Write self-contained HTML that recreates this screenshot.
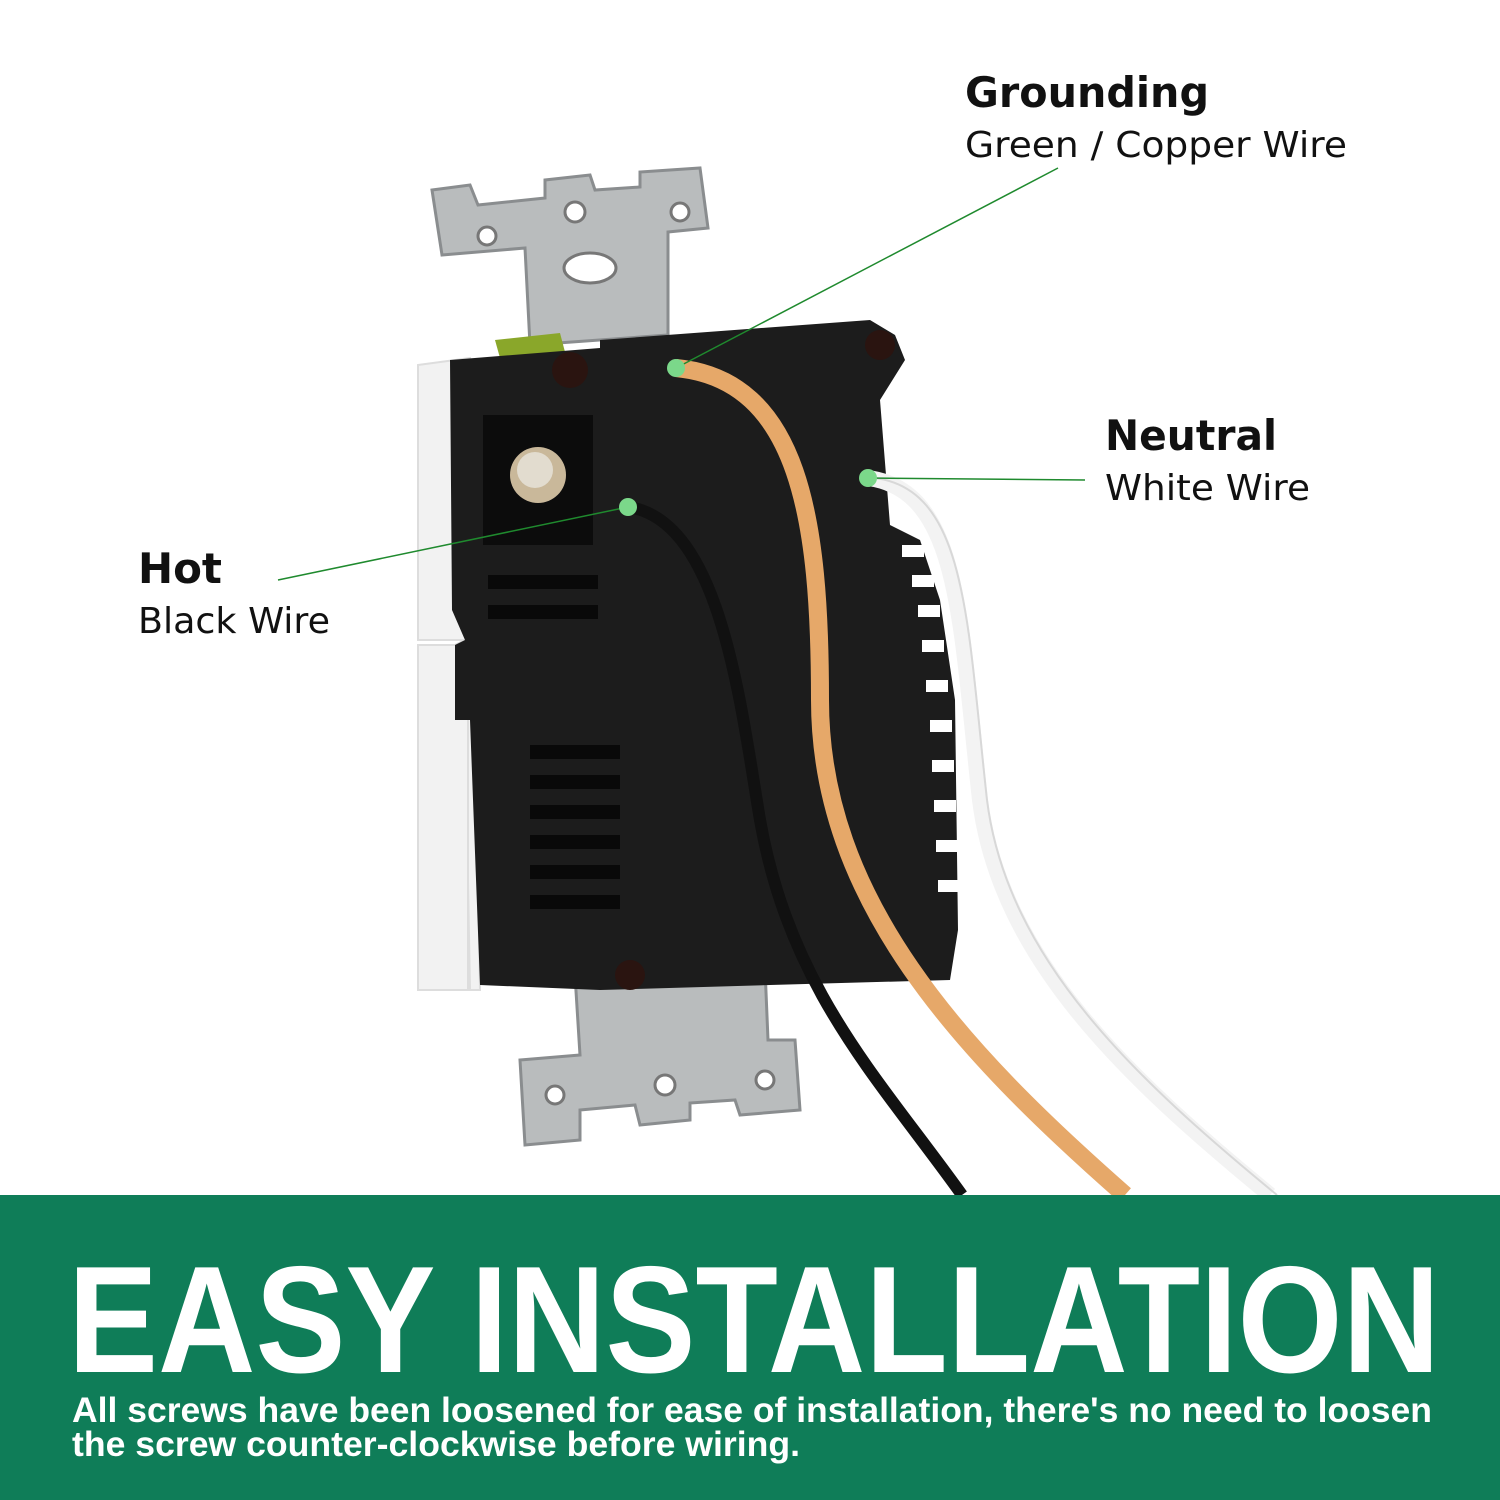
<!DOCTYPE html>
<html><head><meta charset="utf-8"><style>
html,body{margin:0;padding:0;background:#fff}
svg{display:block}
</style></head><body>
<svg width="1500" height="1500" viewBox="0 0 1500 1500" xmlns="http://www.w3.org/2000/svg">
<rect width="1500" height="1500" fill="#fff"/>
<path d="M432,190 L470,185 L478,205 L545,198 L545,180 L590,175 L595,190 L640,187 L640,172 L700,168 L708,228 L668,232 L668,335 L530,345 L525,248 L442,255 Z" fill="#b9bcbd" stroke="#8a8d8f" stroke-width="3"/>
<circle cx="575" cy="212" r="10" fill="#fff" stroke="#777" stroke-width="3"/>
<circle cx="487" cy="236" r="9" fill="#fff" stroke="#777" stroke-width="3"/>
<circle cx="680" cy="212" r="9" fill="#fff" stroke="#777" stroke-width="3"/>
<ellipse cx="590" cy="268" rx="26" ry="15" fill="#fff" stroke="#777" stroke-width="3"/>
<path d="M495,340 L560,333 L565,352 L500,358 Z" fill="#8aa72a"/>
<path d="M575,975 L765,968 L768,1040 L795,1040 L800,1110 L740,1115 L735,1100 L690,1103 L690,1120 L640,1125 L635,1105 L580,1110 L580,1140 L525,1145 L520,1060 L580,1055 Z" fill="#b9bcbd" stroke="#8a8d8f" stroke-width="3"/>
<circle cx="665" cy="1085" r="10" fill="#fff" stroke="#777" stroke-width="3"/>
<circle cx="555" cy="1095" r="9" fill="#fff" stroke="#777" stroke-width="3"/>
<circle cx="765" cy="1080" r="9" fill="#fff" stroke="#777" stroke-width="3"/>
<path d="M418,365 L470,358 L480,990 L470,990 L465,720 L455,720 L455,645 L465,640 L462,640 L418,640 Z" fill="#f2f2f2" stroke="#ddd" stroke-width="2"/>
<rect x="418" y="645" width="50" height="345" fill="#f2f2f2" stroke="#ddd" stroke-width="2"/>
<path d="M450,360 L600,348 L600,340 L870,320 L895,335 L905,360 L880,400 L890,525 L920,540 L940,600 L955,700 L958,930 L950,980 L770,985 L600,990 L480,985 L470,720 L455,720 L455,645 L465,640 L452,610 Z" fill="#1c1c1c"/>
<rect x="483" y="415" width="110" height="130" fill="#0c0c0c"/>
<circle cx="538" cy="475" r="28" fill="#c9b89a"/>
<circle cx="535" cy="470" r="18" fill="#e2dccf"/>
<g fill="#090909">
<rect x="488" y="575" width="110" height="14"/><rect x="488" y="605" width="110" height="14"/>
<rect x="530" y="745" width="90" height="14"/><rect x="530" y="775" width="90" height="14"/><rect x="530" y="805" width="90" height="14"/><rect x="530" y="835" width="90" height="14"/><rect x="530" y="865" width="90" height="14"/><rect x="530" y="895" width="90" height="14"/>
</g>
<g fill="#fff">
<rect x="902" y="545" width="22" height="12"/><rect x="912" y="575" width="22" height="12"/><rect x="918" y="605" width="22" height="12"/><rect x="922" y="640" width="22" height="12"/><rect x="926" y="680" width="22" height="12"/><rect x="930" y="720" width="22" height="12"/><rect x="932" y="760" width="22" height="12"/><rect x="934" y="800" width="22" height="12"/><rect x="936" y="840" width="22" height="12"/><rect x="938" y="880" width="22" height="12"/>
</g>
<circle cx="570" cy="370" r="18" fill="#2a1410"/><circle cx="880" cy="345" r="15" fill="#2a1410"/><circle cx="630" cy="975" r="15" fill="#2a1410"/>
<path d="M628,507 C720,520 740,700 760,820 C790,990 880,1080 962,1195" fill="none" stroke="#111" stroke-width="12"/>
<path d="M676,368 C800,380 820,520 820,700 C820,900 960,1050 1125,1195" fill="none" stroke="#e6a869" stroke-width="18"/>
<path d="M868,478 C960,490 960,620 980,800 C1000,960 1130,1080 1270,1195" fill="none" stroke="#f3f3f3" stroke-width="16"/>
<path d="M868,478 C960,490 960,620 980,800 C1000,960 1130,1080 1270,1195" fill="none" stroke="#d8d8d8" stroke-width="2" transform="translate(7,0)"/>
<g stroke="#1f8a2e" stroke-width="1.5" fill="none">
<line x1="676" y1="368" x2="1058" y2="168"/>
<line x1="868" y1="478" x2="1085" y2="480"/>
<line x1="628" y1="507" x2="278" y2="580"/>
</g>
<g fill="#7bd88a"><circle cx="676" cy="368" r="9"/><circle cx="868" cy="478" r="9"/><circle cx="628" cy="507" r="9"/></g>
<g font-family="'DejaVu Sans','Liberation Sans',sans-serif" fill="#111">
<text x="965" y="107" font-size="42" font-weight="bold" textLength="244" lengthAdjust="spacingAndGlyphs">Grounding</text>
<text x="965" y="157" font-size="36" textLength="382" lengthAdjust="spacingAndGlyphs">Green / Copper Wire</text>
<text x="1105" y="450" font-size="42" font-weight="bold" textLength="172" lengthAdjust="spacingAndGlyphs">Neutral</text>
<text x="1105" y="500" font-size="36" textLength="205" lengthAdjust="spacingAndGlyphs">White Wire</text>
<text x="138" y="583" font-size="42" font-weight="bold" textLength="84" lengthAdjust="spacingAndGlyphs">Hot</text>
<text x="138" y="633" font-size="36" textLength="192" lengthAdjust="spacingAndGlyphs">Black Wire</text>
</g>
<rect x="0" y="1195" width="1500" height="305" fill="#0f7d58"/>
<g font-family="'Liberation Sans Narrow','Liberation Sans',sans-serif" font-weight="bold" fill="#fff">
<text x="68" y="1372" font-size="152" textLength="1372" lengthAdjust="spacingAndGlyphs">EASY INSTALLATION</text>
<text x="72" y="1422" font-size="35" textLength="1360" lengthAdjust="spacingAndGlyphs">All screws have been loosened for ease of installation, there's no need to loosen</text>
<text x="72" y="1456" font-size="35" textLength="728" lengthAdjust="spacingAndGlyphs">the screw counter-clockwise before wiring.</text>
</g>
</svg>
</body></html>
